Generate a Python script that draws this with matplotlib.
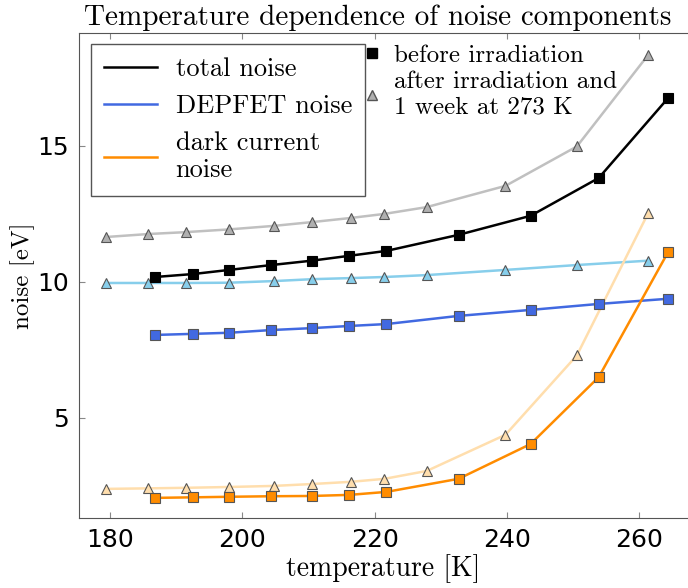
import matplotlib
matplotlib.use("Agg")
import matplotlib.pyplot as plt
from matplotlib.lines import Line2D

# temperatures [K]
t_after = [179.4, 185.8, 191.5, 198.0, 204.8, 210.6, 216.4, 221.5, 227.9, 239.8, 250.6, 261.4]
t_before = [186.8, 192.6, 198.0, 204.4, 210.5, 216.2, 221.8, 232.7, 243.6, 253.9, 264.4]

# noise [eV], after irradiation + 1 week at 273 K
total_after = [11.65, 11.76, 11.83, 11.93, 12.06, 12.2, 12.35, 12.5, 12.75, 13.53, 14.98, 18.35]
depfet_after = [9.96, 9.96, 9.96, 9.97, 10.03, 10.1, 10.14, 10.18, 10.25, 10.44, 10.62, 10.78]
dark_after = [2.39, 2.41, 2.43, 2.46, 2.5, 2.57, 2.65, 2.76, 3.05, 4.38, 7.3, 12.54]

# noise [eV], before irradiation
total_before = [10.18, 10.29, 10.44, 10.62, 10.78, 10.96, 11.14, 11.73, 12.43, 13.82, 16.76]
depfet_before = [8.05, 8.09, 8.13, 8.23, 8.3, 8.38, 8.45, 8.75, 8.97, 9.19, 9.38]
dark_before = [2.06, 2.08, 2.1, 2.12, 2.13, 2.17, 2.28, 2.76, 4.04, 6.5, 11.1]

serif = "cmr10"

fig = plt.figure(figsize=(6.88, 5.88), dpi=100)
ax = fig.add_axes([79 / 688, 1 - 518 / 588, 609 / 688, 485 / 588])

edge = "#555555"
# after irradiation (light colours, triangles)
ax.plot(t_after, total_after, color="#c0c0c0", lw=1.8, marker="^", ms=7.5,
        mfc="#b0b0b0", mec=edge, mew=0.8)
ax.plot(t_after, depfet_after, color="#87ceeb", lw=1.8, marker="^", ms=7.5,
        mfc="#87ceeb", mec=edge, mew=0.8)
ax.plot(t_after, dark_after, color="#ffdead", lw=1.8, marker="^", ms=7.5,
        mfc="#ffdead", mec=edge, mew=0.8)
# before irradiation (squares)
ax.plot(t_before, total_before, color="black", lw=1.8, marker="s", ms=7.5,
        mfc="black", mec="black", mew=0.8)
ax.plot(t_before, depfet_before, color="royalblue", lw=1.8, marker="s", ms=7.5,
        mfc="royalblue", mec=edge, mew=0.8)
ax.plot(t_before, dark_before, color="darkorange", lw=1.8, marker="s", ms=7.5,
        mfc="darkorange", mec=edge, mew=0.8)

ax.set_xlim(175.3, 267.4)
ax.set_ylim(1.32, 19.15)
ax.set_xticks([180, 200, 220, 240, 260])
ax.set_yticks([5, 10, 15])
ax.tick_params(direction="in", length=4, color="#888888", labelsize=18,
               top=True, pad=7)
for s in ["left", "bottom", "top"]:
    ax.spines[s].set_color("#555555")
ax.spines["right"].set_visible(False)

ax.set_xlabel("temperature [K]", fontfamily=serif, fontsize=20, labelpad=2)
ax.set_ylabel("noise [eV]", fontfamily=serif, fontsize=18, labelpad=2)
ax.set_title("Temperature dependence of noise components", fontfamily=serif,
             fontsize=21, x=0.49, pad=6)

h1 = [Line2D([], [], color="black", lw=1.8),
      Line2D([], [], color="royalblue", lw=1.8),
      Line2D([], [], color="darkorange", lw=1.8)]
leg1 = ax.legend(h1, ["total noise", "DEPFET noise", "dark current\nnoise"],
                 loc="upper left", bbox_to_anchor=(0.02, 0.977),
                 prop={"family": serif, "size": 19}, fancybox=False,
                 edgecolor="#555555", framealpha=1, handlelength=2.0,
                 handletextpad=0.7, labelspacing=0.5, borderpad=0.5,
                 borderaxespad=0)
ax.add_artist(leg1)

h2 = [Line2D([], [], ls="", marker="s", ms=6.5, mfc="black", mec="black"),
      Line2D([], [], ls="", marker="^", ms=6.5, mfc="#b0b0b0", mec=edge)]
ax.legend(h2, ["before irradiation", "after irradiation and\n1 week at 273 K"],
          loc="upper left", bbox_to_anchor=(0.468, 0.976),
          prop={"family": serif, "size": 18}, frameon=False,
          handlelength=0.6, handletextpad=0.6, labelspacing=0.15, borderpad=0,
          borderaxespad=0)

fig.savefig("out.png", dpi=100)
